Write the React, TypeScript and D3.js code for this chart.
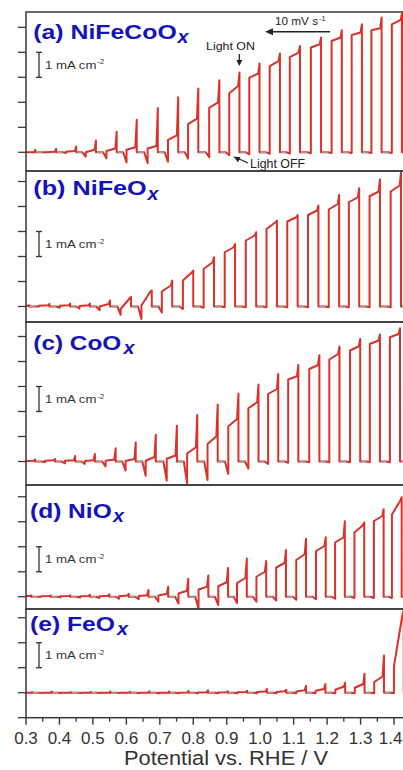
import React from 'react';
import * as d3 from 'd3';

const W = 403;
const H = 770;
const FONT = '"Liberation Sans", Arial, Helvetica, sans-serif';

// x axis (Potential vs. RHE / V)
const xTicks = [0.3, 0.4, 0.5, 0.6, 0.7, 0.8, 0.9, 1.0, 1.1, 1.2, 1.3, 1.4];
const xMinorTicks = [0.35, 0.45, 0.55, 0.65, 0.75, 0.85, 0.95, 1.05, 1.15, 1.25, 1.35];
const xTickLabels = ['0.3', '0.4', '0.5', '0.6', '0.7', '0.8', '0.9', '1.0', '1.1', '1.2', '1.3', '1.4'];

// ---------- (a) NiFeCoOx ----------
const aOnV = [0.328, 0.390, 0.450, 0.509, 0.571, 0.631, 0.694, 0.755, 0.815, 0.878, 0.938, 0.998, 1.059, 1.119, 1.182, 1.244, 1.304, 1.363, 1.424];
const aSpike = [0.10, 0.14, 0.23, 0.47, 0.82, 1.30, 1.77, 2.20, 2.55, 2.88, 3.19, 3.55, 3.95, 4.25, 4.59, 4.88, 5.12, 5.39, 5.55];
const aEnd = [0.0, 0.02, 0.05, 0.10, 0.15, 0.20, 0.25, 0.68, 1.35, 2.00, 2.65, 3.15, 3.65, 3.99, 4.32, 4.59, 4.79, 4.96, 5.30];
const aStart = [0.0, 0.0, 0.02, 0.0, 0.05, 0.10, 0.15, 0.50, 1.13, 1.78, 2.36, 2.99, 3.45, 3.81, 4.19, 4.45, 4.69, 4.88, 5.12];
const aDip = [0, 0, -0.03, -0.17, -0.24, -0.41, -0.44, -0.38, -0.25, -0.20, -0.12, -0.08, -0.06, -0.05, -0.04, -0.03, -0.03, -0.03, -0.03];

// ---------- (b) NiFeOx ----------
const bOnV = [0.309, 0.370, 0.432, 0.491, 0.551, 0.614, 0.676, 0.737, 0.800, 0.862, 0.925, 0.988, 1.050, 1.112, 1.174, 1.236, 1.296, 1.358, 1.421];
const bSpike = [0.05, 0.10, 0.12, 0.12, 0.24, 0.38, 0.64, 1.04, 1.44, 1.97, 2.50, 2.97, 3.44, 3.66, 4.04, 4.46, 4.73, 5.08, 5.37];
const bEnd = [0.03, 0.05, 0.05, 0.05, 0.10, 0.33, 0.60, 0.84, 1.37, 1.77, 2.37, 2.84, 3.37, 3.57, 3.84, 4.10, 4.37, 4.60, 4.84];
const bStart = [0.02, 0.03, 0.03, 0.02, 0.0, -0.10, 0.04, 0.60, 1.04, 1.50, 2.17, 2.64, 3.10, 3.40, 3.66, 3.88, 4.17, 4.41, 4.60];
const bDip = [0, 0, -0.05, -0.08, -0.15, -0.33, -0.50, -0.24, -0.10, -0.05, -0.03, -0.03, -0.03, -0.03, -0.03, -0.03, -0.03, -0.03, -0.03];

// ---------- (c) CoOx ----------
const cOnV = [0.327, 0.387, 0.447, 0.506, 0.568, 0.628, 0.688, 0.751, 0.812, 0.873, 0.935, 0.995, 1.054, 1.114, 1.177, 1.237, 1.299, 1.358, 1.418];
const cSpike = [0.08, 0.10, 0.22, 0.30, 0.53, 0.76, 1.07, 1.43, 1.86, 2.28, 2.72, 3.08, 3.50, 3.86, 4.25, 4.60, 4.90, 5.08, 5.33];
const cEnd = [0.03, 0.05, 0.05, 0.05, 0.08, 0.10, 0.18, 0.24, 0.57, 1.01, 1.70, 2.37, 2.90, 3.41, 3.86, 4.30, 4.61, 4.84, 5.10];
const cStart = [0.02, 0.03, 0.03, 0.02, 0.03, 0.02, 0.03, 0.11, 0.32, 0.70, 1.41, 2.13, 2.70, 3.28, 3.70, 4.08, 4.44, 4.70, 4.97];
const cDip = [0, -0.03, -0.07, -0.10, -0.20, -0.36, -0.57, -0.76, -0.87, -0.74, -0.50, -0.28, -0.10, -0.05, -0.03, -0.03, -0.03, -0.03, -0.03];

// ---------- (d) NiOx ----------
const dOnV = [0.316, 0.374, 0.432, 0.491, 0.549, 0.607, 0.666, 0.725, 0.785, 0.845, 0.904, 0.960, 1.018, 1.077, 1.137, 1.196, 1.253, 1.311, 1.369, 1.423];
const dSpike = [0.05, 0.05, 0.06, 0.08, 0.10, 0.12, 0.27, 0.40, 0.72, 0.85, 1.15, 1.53, 1.43, 1.87, 2.32, 2.38, 3.02, 2.97, 3.50, 3.98];
const dEnd = [0.03, 0.03, 0.03, 0.03, 0.04, 0.05, 0.06, 0.12, 0.24, 0.40, 0.58, 0.75, 1.00, 1.35, 1.70, 2.03, 2.37, 2.86, 3.23, 3.85];
const dStart = [0.02, 0.02, 0.02, 0.02, 0.02, 0.02, 0.03, 0.05, 0.13, 0.29, 0.42, 0.55, 0.80, 1.17, 1.47, 1.83, 2.17, 2.57, 3.03, 3.29];
const dDip = [0, 0, -0.02, -0.03, -0.05, -0.08, -0.10, -0.20, -0.27, -0.47, -0.33, -0.25, -0.20, -0.15, -0.12, -0.10, -0.08, -0.05, -0.05, -0.05];

// ---------- (e) FeOx ----------
const eOnV = [0.319, 0.377, 0.435, 0.494, 0.552, 0.611, 0.669, 0.728, 0.786, 0.844, 0.903, 0.961, 1.020, 1.078, 1.137, 1.195, 1.254, 1.312, 1.370, 1.429];
const eSpike = [0.02, 0.05, 0.02, 0.03, 0.05, 0.03, 0.06, 0.05, 0.07, 0.10, 0.06, 0.08, 0.15, 0.12, 0.28, 0.35, 0.40, 0.76, 1.49, 3.30];
const eEnd = [0, 0, 0, 0, 0, 0, 0, 0, 0.01, 0.02, 0.02, 0.03, 0.05, 0.06, 0.10, 0.15, 0.25, 0.35, 0.65, 3.10];
const eStart = [0, 0, 0, 0, 0, 0, 0, 0, 0, 0.01, 0.01, 0.02, 0.03, 0.03, 0.05, 0.08, 0.12, 0.20, 0.43, 1.05];
const eDip = [-0.01, -0.01, -0.01, -0.01, -0.01, -0.01, -0.02, -0.02, -0.02, -0.02, -0.02, -0.02, -0.02, -0.02, -0.02, -0.02, -0.02, -0.02, -0.02, -0.02];

type Panel = {
  name: string; sub: string;
  onV: number[]; spike: number[]; end: number[]; start: number[]; dip: number[];
  half: number; yDomain: [number, number]; yTicks: number[]; bar: [number, number];
  top: number; bottom: number;
  titleX: number; titleY: number; titleW: number; subX: number; subDy: number;
};

const panels: Panel[] = [
  { name: '(a) NiFeCoO', sub: 'x', onV: aOnV, spike: aSpike, end: aEnd, start: aStart, dip: aDip,
    half: 0.0305, yDomain: [-0.748, 5.612], yTicks: [0, 1, 2, 3, 4, 5], bar: [3, 4],
    top: 12, bottom: 171, titleX: 33.3, titleY: 39.3, titleW: 143.4, subX: 177.5, subDy: 4 },
  { name: '(b) NiFeO', sub: 'x', onV: bOnV, spike: bSpike, end: bEnd, start: bStart, dip: bDip,
    half: 0.031, yDomain: [-0.62, 5.42], yTicks: [0, 1, 2, 3, 4, 5], bar: [2, 3],
    top: 171, bottom: 322, titleX: 33.3, titleY: 195.3, titleW: 113.4, subX: 147.5, subDy: 5 },
  { name: '(c) CoO', sub: 'x', onV: cOnV, spike: cSpike, end: cEnd, start: cStart, dip: cDip,
    half: 0.0303, yDomain: [-0.94, 5.58], yTicks: [0, 1, 2, 3, 4, 5], bar: [2, 3],
    top: 322, bottom: 485, titleX: 33.3, titleY: 349.5, titleW: 88, subX: 123.5, subDy: 4 },
  { name: '(d) NiO', sub: 'x', onV: dOnV, spike: dSpike, end: dEnd, start: dStart, dip: dDip,
    half: 0.0292, yDomain: [-0.49, 4.47], yTicks: [0, 1, 2, 3, 4], bar: [1, 2],
    top: 485, bottom: 609, titleX: 30, titleY: 518.3, titleW: 81.7, subX: 113, subDy: 4 },
  { name: '(e) FeO', sub: 'x', onV: eOnV, spike: eSpike, end: eEnd, start: eStart, dip: eDip,
    half: 0.0292, yDomain: [-1.0, 3.35], yTicks: [-1, 0, 1, 2, 3], bar: [1, 2],
    top: 609, bottom: 717.7, titleX: 30, titleY: 630.7, titleW: 85, subX: 117, subDy: 4 },
];

const x = d3.scaleLinear().domain([0.3, 1.4]).range([26, 394]);
const LEFT = 26;
const RIGHT = 410;
const RED = '#d9322a';
const GREY = '#a0a0a0';
const AXIS = '#3a3a3a';
const BLUE = '#1414b8';

function tracePoints(p: Panel): [number, number][] {
  const pts: [number, number][] = [[0.25, 0]];
  const dipTail = 0.01;
  const spikeTail = 0.004;
  p.onV.forEach((xR, i) => {
    const xL = xR - p.half;
    pts.push([xL - dipTail, 0]);
    pts.push([xL, p.dip[i]]);
    pts.push([xL, p.start[i]]);
    pts.push([xR - spikeTail, p.end[i]]);
    pts.push([xR, p.spike[i]]);
    pts.push([xR, 0]);
  });
  pts.push([1.6, 0]);
  return pts;
}

function greySegments(p: Panel): [number, number][] {
  const segs: [number, number][] = [];
  let prev = 0.25;
  p.onV.forEach((xR) => {
    const xL = xR - p.half;
    segs.push([prev + 0.003, xL - 0.011]);
    prev = xR;
  });
  segs.push([prev + 0.003, 1.6]);
  return segs.filter(s => s[1] > s[0]);
}

function PanelView({ p, idx }: { p: Panel; idx: number }) {
  const y = d3.scaleLinear().domain(p.yDomain).range([p.bottom, p.top]);
  const line = d3.line<[number, number]>().x(d => x(d[0])).y(d => y(d[1]));
  const pts = tracePoints(p);
  const segs = greySegments(p);
  const clipId = `clip-${idx}`;
  const barTop = y(p.bar[1]);
  const barBot = y(p.bar[0]);
  const barMid = (barTop + barBot) / 2;
  return (
    <g>
      <defs>
        <clipPath id={clipId}>
          <rect x={LEFT} y={p.top} width={RIGHT - LEFT} height={p.bottom - p.top} />
        </clipPath>
      </defs>
      <g clipPath={`url(#${clipId})`}>
        <path d={line(pts) || ''} fill="none" stroke={RED} strokeWidth={2} strokeLinejoin="round" />
        {segs.map((s, i) => (
          <line key={i} x1={x(s[0])} x2={x(s[1])} y1={y(0)} y2={y(0)} stroke={GREY} strokeWidth={1.7} />
        ))}
      </g>
      {p.yTicks.map(t => (
        <line key={t} x1={LEFT - 8} x2={LEFT} y1={y(t)} y2={y(t)} stroke={AXIS} strokeWidth={1.3} />
      ))}
      <rect x={LEFT} y={p.top} width={RIGHT - LEFT} height={p.bottom - p.top} fill="none" stroke={AXIS} strokeWidth={1.5} />
      <text x={p.titleX} y={p.titleY} fontFamily={FONT} fontWeight="bold" fontSize={20} fill={BLUE}
        textLength={p.titleW} lengthAdjust="spacingAndGlyphs">{p.name}</text>
      <text x={p.subX} y={p.titleY + p.subDy} fontFamily={FONT} fontWeight="bold" fontStyle="italic" fontSize={18} fill={BLUE}
        textLength={11} lengthAdjust="spacingAndGlyphs">{p.sub}</text>
      <line x1={39} x2={39} y1={barTop} y2={barBot} stroke="#333" strokeWidth={1.3} />
      <line x1={36} x2={42} y1={barTop} y2={barTop} stroke="#333" strokeWidth={1.3} />
      <line x1={36} x2={42} y1={barBot} y2={barBot} stroke="#333" strokeWidth={1.3} />
      <text x={45} y={barMid + 4} fontFamily={FONT} fontSize={10.5} fill="#333" textLength={51.5} lengthAdjust="spacingAndGlyphs">1 mA cm</text>
      <text x={97.5} y={barMid - 0.5} fontFamily={FONT} fontSize={7.5} fill="#333">-2</text>
    </g>
  );
}

export default function App() {
  const axisY = panels[panels.length - 1].bottom;
  return (
    <svg width={W} height={H} style={{ position: 'absolute', left: 0, top: 0, background: '#fff' }}>
      <rect x={0} y={0} width={W} height={H} fill="#fff" />
      {panels.map((p, i) => <PanelView key={i} p={p} idx={i} />)}
      {xTicks.map(t => (
        <line key={`M${t}`} x1={x(t)} x2={x(t)} y1={axisY} y2={axisY + 7} stroke={AXIS} strokeWidth={1.4} />
      ))}
      {xMinorTicks.map(t => (
        <line key={`m${t}`} x1={x(t)} x2={x(t)} y1={axisY} y2={axisY + 4} stroke={AXIS} strokeWidth={1.3} />
      ))}
      {xTicks.map((t, i) => {
        const last = i === xTicks.length - 1;
        return (
          <text key={`L${t}`} x={last ? 402.5 : x(t)} y={744} textAnchor={last ? 'end' : 'middle'}
            fontFamily={FONT} fontSize={17} fill="#333">{xTickLabels[i]}</text>
        );
      })}
      <text x={226} y={765} textAnchor="middle" fontFamily={FONT} fontSize={19.5} fill="#333" textLength={204} lengthAdjust="spacingAndGlyphs">Potential vs. RHE / V</text>

      <text x={275} y={25} fontFamily={FONT} fontSize={11.5} fill="#222" textLength={43} lengthAdjust="spacingAndGlyphs">10 mV s</text>
      <text x={319} y={20.5} fontFamily={FONT} fontSize={7.5} fill="#222">-1</text>
      <line x1={330} x2={272} y1={31.7} y2={31.7} stroke="#222" strokeWidth={1.5} />
      <path d="M265,31.7 L273,28.2 L273,35.2 Z" fill="#222" />
      <text x={206} y={50} fontFamily={FONT} fontSize={11.5} fill="#222" textLength={49} lengthAdjust="spacingAndGlyphs">Light ON</text>
      <line x1={239.3} x2={239.3} y1={54} y2={61} stroke="#222" strokeWidth={1.3} />
      <path d="M239.3,66 L236.3,60 L242.3,60 Z" fill="#222" />
      <text x={250} y={168.3} fontFamily={FONT} fontSize={12.5} fill="#222" textLength={55} lengthAdjust="spacingAndGlyphs">Light OFF</text>
      <line x1={248} x2={238} y1={163} y2={158.5} stroke="#222" strokeWidth={1.3} />
      <path d="M233.5,156.5 L240.5,157.2 L238,162.3 Z" fill="#222" />
    </svg>
  );
}
